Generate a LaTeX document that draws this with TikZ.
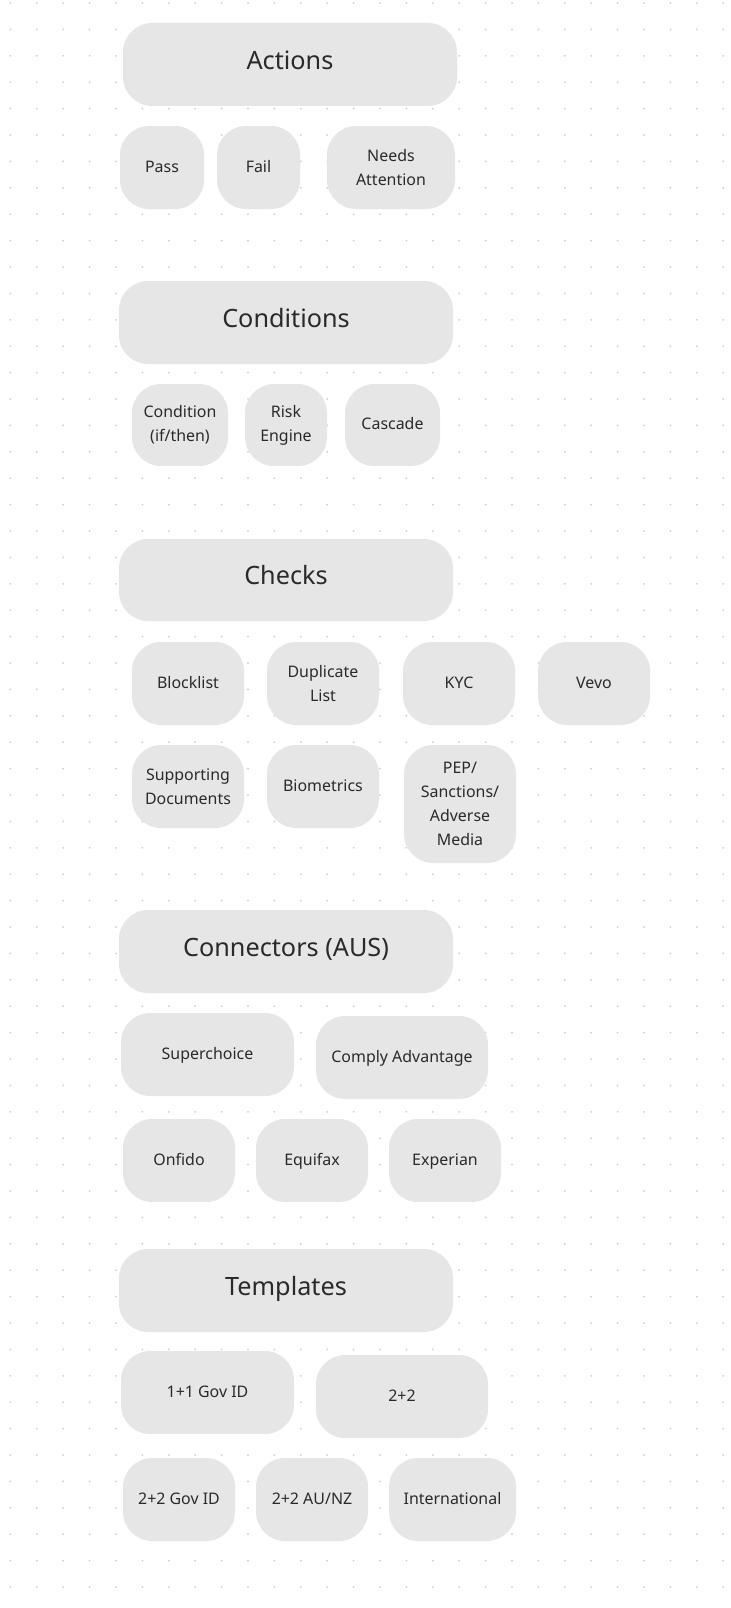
\documentclass[tikz,border=0pt]{standalone}
\usepackage{fontspec}
\setmainfont{Noto Sans}
\definecolor{chipfill}{HTML}{E6E6E6}
\definecolor{chiptext}{HTML}{2A2A2A}
\definecolor{griddot}{HTML}{CFCFCF}
\begin{document}
\begin{tikzpicture}[x=0.75bp,y=-0.75bp]
\tikzstyle{chip}=[fill=chipfill,rounded corners=22pt]
\tikzstyle{lbl}=[text=chiptext,font=\fontsize{12}{18}\selectfont,align=center]
\tikzstyle{one}=[lbl,text height=1.6ex,text depth=0.3ex]
\tikzstyle{head}=[text=chiptext,font=\fontsize{19}{22}\selectfont,text height=1.6ex,text depth=0.3ex]
\useasboundingbox (0,0) rectangle (730,1608);
\fill [white] (0,0) rectangle (730,1608);
% dot grid
\foreach \i in {0,...,27}
  \foreach \j in {0,...,60}
    \fill [griddot] (10.4+26.4*\i,3+26.4*\j) circle (1);
% Actions
\fill [chip] (123,23) rectangle (457,106);
\node [head] (actions) at (290,64.5) {Actions};
\fill [chip] (120,126) rectangle (204,209);
\node [one] (pass) at (162,167.5) {Pass};
\fill [chip] (217,126) rectangle (300,209);
\node [one] (fail) at (258.5,167.5) {Fail};
\fill [chip] (327,126) rectangle (455,209);
\node [lbl] (needs) at (391,167.5) {Needs\\Attention};
% Conditions
\fill [chip] (119,281) rectangle (453,364);
\node [head] (conditions) at (286,322.5) {Conditions};
\fill [chip] (132,384) rectangle (228,466);
\node [lbl] (cond) at (180,425) {Condition\\(if/then)};
\fill [chip] (245,384) rectangle (327,466);
\node [lbl] (risk) at (286,425) {Risk\\Engine};
\fill [chip] (345,384) rectangle (440,466);
\node [one] (cascade) at (392.5,425) {Cascade};
% Checks
\fill [chip] (119,539) rectangle (453,621);
\node [head] (checks) at (286,580) {Checks};
\fill [chip] (132,642) rectangle (244,725);
\node [one] (block) at (188,683.5) {Blocklist};
\fill [chip] (267,642) rectangle (379,725);
\node [lbl] (dup) at (323,683.5) {Duplicate\\List};
\fill [chip] (403,642) rectangle (515,725);
\node [one] (kyc) at (459,683.5) {KYC};
\fill [chip] (538,642) rectangle (650,725);
\node [one] (vevo) at (594,683.5) {Vevo};
\fill [chip] (132,745) rectangle (244,828);
\node [lbl] (docs) at (188,786.5) {Supporting\\Documents};
\fill [chip] (267,745) rectangle (379,828);
\node [one] (bio) at (323,786.5) {Biometrics};
\fill [chip] (404,745) rectangle (516,863);
\node [lbl] (pep) at (460,804) {PEP/\\Sanctions/\\Adverse\\Media};
% Connectors (AUS)
\fill [chip] (119,910) rectangle (453,993);
\node [head] (connectors) at (286,951.5) {Connectors (AUS)};
\fill [chip] (121,1013) rectangle (294,1096);
\node [one] (superchoice) at (207.5,1054.5) {Superchoice};
\fill [chip] (316,1016) rectangle (488,1099);
\node [one] (comply) at (402,1057.5) {Comply Advantage};
\fill [chip] (123,1119) rectangle (235,1202);
\node [one] (onfido) at (179,1160.5) {Onfido};
\fill [chip] (256,1119) rectangle (368,1202);
\node [one] (equifax) at (312,1160.5) {Equifax};
\fill [chip] (389,1119) rectangle (501,1202);
\node [one] (experian) at (445,1160.5) {Experian};
% Templates
\fill [chip] (119,1249) rectangle (453,1332);
\node [head] (templates) at (286,1290.5) {Templates};
\fill [chip] (121,1351) rectangle (294,1434);
\node [one] (govone) at (207.5,1392.5) {1+1 Gov ID};
\fill [chip] (316,1355) rectangle (488,1438);
\node [one] (twotwo) at (402,1396.5) {2+2};
\fill [chip] (123,1458) rectangle (235,1541);
\node [one] (govtwo) at (179,1499.5) {2+2 Gov ID};
\fill [chip] (256,1458) rectangle (368,1541);
\node [one] (aunz) at (312,1499.5) {2+2 AU/NZ};
\fill [chip] (389,1458) rectangle (516,1541);
\node [one] (intl) at (452.5,1499.5) {International};
\end{tikzpicture}
\end{document}
